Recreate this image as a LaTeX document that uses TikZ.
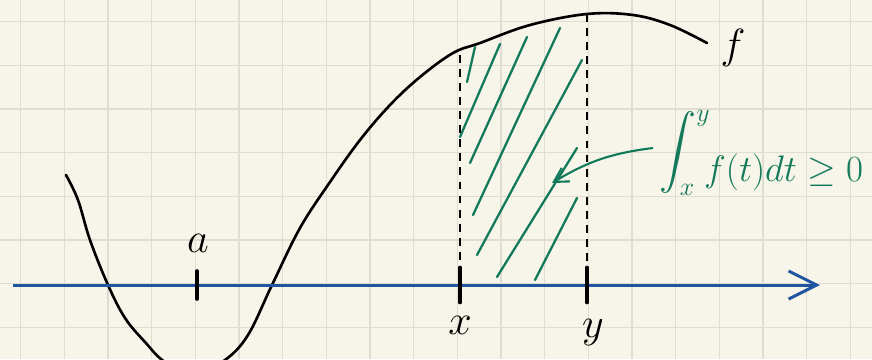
\documentclass[tikz,border=0pt]{standalone}
\usepackage{fix-cm}
\usepackage{amsmath}
\usepackage{amssymb}
\usetikzlibrary{arrows.meta, positioning}
\definecolor{paper}{HTML}{F7F5E9}
\definecolor{gridline}{HTML}{DFDDD1}
\definecolor{axisblue}{HTML}{1F55A0}
\definecolor{penGreen}{HTML}{12795A}

\begin{document}
\begin{tikzpicture}[
  x=0.02cm, y=-0.02cm,
  gridrule/.style={draw=gridline, line width=0.8pt},
  curve/.style={draw=black, line width=1.5pt, line cap=round, line join=round},
  axis/.style={draw=axisblue, line width=1.7pt, -{Straight Barb[length=16pt, width=16pt, line width=1.7pt]}},
  tick/.style={draw=black, line width=2pt, line cap=round},
  guide/.style={draw=black, line width=0.8pt, dash pattern=on 4.5pt off 3.5pt},
  hatch/.style={draw=penGreen, line width=1.3pt, line cap=round},
  pointer/.style={draw=penGreen, line width=1.2pt, -{Straight Barb[length=8pt, width=9pt, line width=1.2pt]}},
  lbl/.style={font=\fontsize{24}{28}\selectfont, inner sep=0pt},
  note/.style={font=\fontsize{21}{25}\selectfont, text=penGreen, inner sep=0pt}
]
\fill[paper] (0,0) rectangle (872,359);
\useasboundingbox (0,0) rectangle (872,359);
\begin{scope}
\clip (0,0) rectangle (872,359);
% grid paper
\foreach \i in {0,...,19} \draw[gridrule] ({20.7+43.67*\i},0) -- ({20.7+43.67*\i},359);
\foreach \j in {0,...,7} \draw[gridrule] (0,{21.7+43.67*\j}) -- (872,{21.7+43.67*\j});

% the function f
\draw[curve] plot[smooth, tension=0.6] coordinates {(66,175) (78,200) (90,240) (108,285) (125,318) (145,342) (165,362) (195,374) (225,360) (248,335) (272,285) (300,228) (330,182) (360,140) (390,105) (420,77) (453,53) (480,43) (530,25) (587,14) (633,15) (670,25) (707,43)};

% area between x and y
\foreach \xa/\ya/\xb/\yb in {467/82/475/47, 460/137/500/44, 470/163/527/37, 473/215/560/28, 477/255/582/60, 497/277/577/148, 535/280/577/198}
  \draw[hatch] (\xa,\ya) -- (\xb,\yb);

% dashed guides
\coordinate (topX) at (460,55);
\coordinate (topY) at (587,14);
\coordinate (footX) at (460,285);
\coordinate (footY) at (587,285);
\draw[guide] (topX) -- (footX);
\draw[guide] (topY) -- (footY);
\end{scope}

% axis
\coordinate (axisL) at (13,285);
\coordinate (axisR) at (820,285);
\draw[axis] (axisL) -- (axisR);

% ticks
\coordinate (tickA) at (197,285);
\draw[tick] ([yshift=8]tickA) -- ([yshift=-8]tickA);
\draw[tick] ([yshift=10]footX) -- ([yshift=-10]footX);
\draw[tick] ([yshift=10]footY) -- ([yshift=-10]footY);

% labels
\node[lbl] (labelA) at (198,243) {$a$};
\node[lbl] (labelX) at (460,325) {$x$};
\node[lbl] (labelY) at (593,333) {$y$};
\node[lbl] (labelF) at (733,48) {$f$};

% the integral
\node[note, anchor=west] (integral) at (659,153) {$\displaystyle\int_x^y\!\!\raisebox{-11pt}{$f(t)dt \geq 0$}$};
\coordinate (arrowStart) at (653,148);
\coordinate (arrowTip) at (552,183);
\draw[pointer] (arrowStart) to[bend right=12] (arrowTip);
\end{tikzpicture}
\end{document}
